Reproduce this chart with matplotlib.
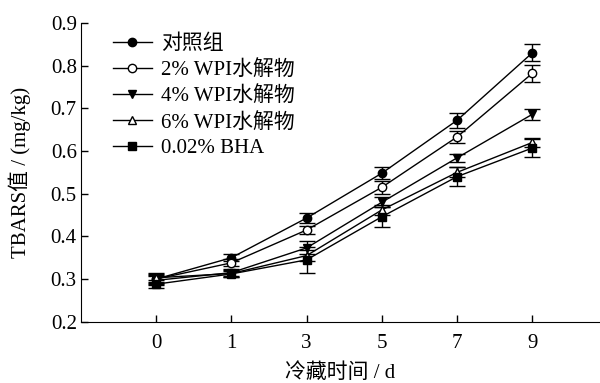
import numpy as np
import matplotlib
matplotlib.use("Agg")
import matplotlib.pyplot as plt
from matplotlib.lines import Line2D

plt.rcParams["font.family"] = ["Liberation Serif", "Noto Sans CJK SC"]
plt.rcParams["font.size"] = 15

days = ["0", "1", "3", "5", "7", "9"]
series_names = ["对照组", "2% WPI水解物", "4% WPI水解物", "6% WPI水解物", "0.02% BHA"]

control = [0.300, 0.350, 0.443, 0.548, 0.672, 0.830]
wpi2 = [0.300, 0.338, 0.415, 0.515, 0.633, 0.782]
wpi4 = [0.297, 0.315, 0.373, 0.480, 0.584, 0.686]
wpi6 = [0.303, 0.313, 0.355, 0.462, 0.550, 0.620]
bha = [0.288, 0.312, 0.345, 0.446, 0.540, 0.607]

control_err = [0.012, 0.008, 0.012, 0.014, 0.018, 0.020]
wpi2_err = [0.010, 0.008, 0.010, 0.015, 0.015, 0.020]
wpi4_err = [0.010, 0.008, 0.015, 0.012, 0.010, 0.013]
wpi6_err = [0.010, 0.008, 0.012, 0.012, 0.012, 0.010]
bha_err = [0.010, 0.008, 0.030, 0.023, 0.023, 0.020]

values = [control, wpi2, wpi4, wpi6, bha]
errors = [control_err, wpi2_err, wpi4_err, wpi6_err, bha_err]
markers = ["o", "o", "v", "^", "s"]
faces = ["black", "white", "black", "white", "black"]

fig, ax = plt.subplots(figsize=(6, 3.83), dpi=100)
fig.subplots_adjust(left=0.135, right=1.0, top=0.94, bottom=0.16)

x = np.arange(len(days))
handles = []
for name, v, e, m, fc in zip(series_names, values, errors, markers, faces):
    ax.errorbar(x, v, yerr=e, color="black", marker=m, markersize=6,
                markerfacecolor=fc, markeredgecolor="black", markeredgewidth=1,
                linewidth=1, elinewidth=1, capsize=6, capthick=1)
    handles.append(Line2D([], [], color="black", marker=m, markersize=6,
                          markerfacecolor=fc, markeredgecolor="black",
                          linewidth=1, label=name))

ax.set_xlim(-1, 5.9)
ax.set_ylim(0.2, 0.9)
ax.set_xticks(x)
ax.set_xticklabels(days)
ax.set_yticks(np.arange(0.2, 0.91, 0.1))
ax.set_yticklabels([f"{t:.1f}" for t in np.arange(0.2, 0.91, 0.1)])
ax.tick_params(direction="in", length=5, width=1, pad=9)
ax.tick_params(axis="y", pad=3)
for s in ["top", "right"]:
    ax.spines[s].set_visible(False)

ax.set_xlabel("冷藏时间 / d", labelpad=7)
ax.set_ylabel("TBARS值 / (mg/kg)", labelpad=14)

ax.legend(handles=handles, loc="upper left", bbox_to_anchor=(0.045, 0.99),
          frameon=False, handlelength=1.9, handletextpad=0.4,
          labelspacing=0.3, borderaxespad=0)

fig.savefig("out.png")
